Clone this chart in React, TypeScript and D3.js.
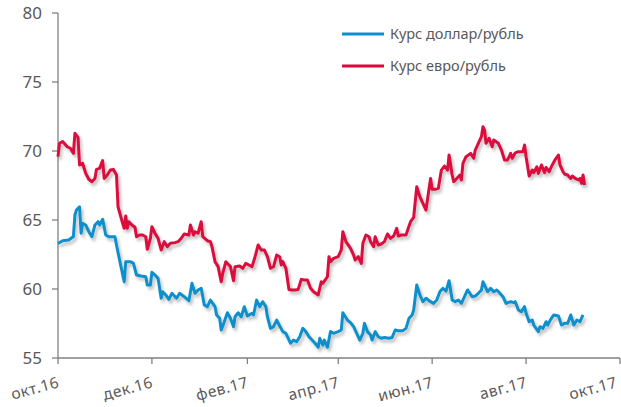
import React from 'react';
import * as d3 from 'd3';

// days since 1 Oct 2016
const usdDays = [
  0, 3, 7, 10, 11, 12, 14, 15, 16, 18,
  20, 22, 24, 26, 27, 29, 31, 33, 37, 38,
  40, 43, 44, 47, 49, 51, 54, 57, 58, 60,
  61, 63, 65, 67, 68, 70, 72, 74, 77, 79,
  82, 85, 87, 89, 91, 93, 95, 97, 99, 102,
  103, 105, 106, 108, 110, 112, 114, 115, 117, 119,
  121, 123, 126, 127, 129, 131, 133, 135, 136, 138,
  140, 142, 144, 146, 148, 151, 153, 155, 157, 159,
  161, 163, 165, 167, 169, 170, 172, 173, 175, 177,
  179, 182, 184, 185, 188, 190, 192, 194, 196, 198,
  199, 201, 203, 204, 206, 208, 210, 212, 215, 217,
  219, 221, 224, 226, 228, 230, 231, 233, 235, 237,
  239, 242, 244, 246, 248, 250, 252, 254, 256, 258,
  260, 262, 264, 266, 269, 271, 273, 275, 276, 278,
  279, 281, 283, 285, 287, 289, 291, 294, 296, 297,
  299, 301, 303, 304, 306, 308, 309, 312, 313, 315,
  317, 318, 320, 322, 325, 327, 329, 331, 333, 335,
  337, 339, 341
];
const usdRates = [
  63.3, 63.5, 63.55, 63.8, 65.36, 65.72, 65.96, 64.04, 64.76, 64.64,
  64.15, 63.79, 64.64, 64.88, 64.64, 65.05, 63.91, 63.79, 63.79, 63.19,
  62.10, 60.53, 61.98, 61.98, 61.86, 61.01, 60.94, 60.89, 60.29, 60.29,
  61.21, 61.01, 60.77, 59.33, 59.80, 59.57, 59.25, 59.69, 59.33, 59.69,
  59.44, 59.15, 60.41, 59.69, 59.93, 60.05, 58.84, 58.72, 59.20, 58.72,
  58.12, 57.88, 57.03, 57.63, 58.28, 57.88, 57.27, 57.99, 58.28, 57.99,
  58.72, 58.04, 58.24, 58.12, 59.20, 58.72, 59.08, 58.72, 57.99, 57.15,
  57.27, 57.75, 57.32, 56.91, 56.79, 56.07, 56.30, 56.18, 56.54, 57.15,
  56.91, 56.54, 56.30, 56.07, 55.78, 56.43, 55.94, 56.30, 55.78, 56.91,
  56.79, 56.91, 57.03, 58.28, 57.75, 57.56, 57.27, 56.79, 56.30, 56.79,
  57.51, 56.91, 56.67, 56.30, 56.91, 56.54, 56.43, 56.49, 56.43, 56.49,
  57.03, 56.98, 56.98, 57.15, 57.88, 58.12, 58.48, 60.29, 59.57, 59.08,
  59.33, 59.08, 58.96, 59.20, 59.80, 60.05, 59.85, 60.6, 59.20, 59.08,
  59.20, 58.96, 59.44, 59.93, 59.44, 59.49, 59.69, 59.93, 60.53, 60.05,
  59.80, 60.05, 59.80, 59.93, 59.69, 59.44, 58.96, 59.08, 59.01, 59.08,
  58.48, 58.36, 58.72, 58.24, 57.63, 57.75, 57.39, 56.91, 57.27, 57.15,
  57.63, 57.39, 57.80, 58.12, 58.04, 57.39, 57.51, 57.51, 58.12, 57.39,
  57.75, 57.63, 58.12
];

const eurDays = [
  0, 1, 3, 6, 8, 10, 11, 13, 14, 16,
  18, 20, 22, 24, 25, 27, 29, 30, 32, 34,
  36, 38, 39, 42, 43, 44, 45, 46, 48, 50,
  51, 53, 55, 57, 58, 60, 61, 63, 65, 67,
  69, 71, 73, 76, 78, 80, 82, 85, 86, 88,
  89, 91, 93, 94, 97, 99, 100, 102, 104, 106,
  107, 109, 111, 112, 114, 115, 118, 120, 122, 124,
  126, 128, 130, 132, 134, 136, 138, 140, 142, 144,
  145, 146, 148, 150, 152, 154, 156, 158, 160, 162,
  164, 166, 169, 171, 172, 175, 176, 177, 179, 182,
  184, 185, 187, 190, 192, 193, 195, 197, 198, 200,
  202, 203, 205, 206, 208, 210, 212, 214, 216, 218,
  220, 221, 223, 226, 228, 229, 231, 233, 235, 237,
  239, 241, 242, 243, 245, 247, 249, 251, 253, 254,
  256, 257, 259, 261, 262, 263, 265, 268, 270, 271,
  273, 275, 276, 277, 278, 280, 282, 283, 286, 288,
  290, 292, 294, 295, 297, 299, 302, 303, 304, 306,
  308, 309, 311, 312, 314, 316, 317, 319, 321, 323,
  325, 326, 328, 329, 331, 333, 334, 336, 338, 339,
  340, 341, 342
];
const eurRates = [
  69.59, 70.56, 70.68, 70.31, 70.20, 69.83, 71.28, 70.99, 68.99, 69.11,
  68.38, 67.95, 67.77, 68.01, 68.67, 68.74, 69.30, 68.01, 68.26, 68.62,
  68.67, 68.26, 65.96, 64.76, 64.40, 65.29, 64.40, 64.88, 64.64, 64.47,
  63.79, 63.91, 63.91, 63.79, 62.88, 63.67, 64.51, 64.04, 63.67, 62.83,
  63.43, 63.07, 63.31, 63.36, 63.43, 63.67, 63.99, 63.91, 64.64, 63.91,
  64.15, 64.04, 64.88, 63.79, 63.50, 63.43, 63.07, 61.98, 61.62, 60.53,
  61.14, 61.98, 61.74, 61.62, 60.60, 61.62, 61.67, 61.50, 61.86, 61.74,
  61.62, 62.34, 63.19, 62.83, 62.83, 62.34, 61.50, 61.62, 62.46, 62.34,
  61.74, 61.98, 61.50, 59.97, 59.93, 59.93, 59.97, 60.70, 60.65, 60.65,
  60.05, 59.80, 59.57, 60.53, 60.41, 60.89, 62.34, 61.98, 62.22, 62.34,
  62.83, 64.15, 63.43, 62.95, 62.46, 62.10, 62.34, 61.86, 63.31, 63.91,
  63.79, 63.43, 63.07, 63.79, 63.19, 63.26, 63.43, 63.99, 63.67, 63.84,
  64.40, 63.84, 63.91, 63.91, 64.57, 64.88, 65.19, 67.41, 66.69, 66.21,
  65.72, 67.29, 68.01, 67.22, 67.22, 67.29, 68.62, 68.91, 68.62, 69.71,
  68.26, 67.77, 68.01, 68.26, 67.90, 69.11, 69.59, 69.83, 69.47, 70.07,
  70.56, 71.04, 71.76, 71.52, 70.56, 70.92, 70.31, 70.80, 70.56, 70.07,
  69.35, 69.35, 69.83, 69.47, 69.87, 69.95, 69.95, 70.43, 69.59, 68.19,
  68.62, 68.43, 68.86, 68.38, 68.99, 68.43, 68.81, 68.50, 68.99, 69.40,
  69.71, 68.99, 68.50, 68.33, 68.26, 68.01, 68.19, 68.01, 67.90, 68.01,
  67.65, 68.26, 67.54
];

const yTicks = [55, 60, 65, 70, 75, 80];
const monthLabels = ['окт.16', 'дек.16', 'фев.17', 'апр.17', 'июн.17', 'авг.17', 'окт.17'];
const seriesNames = ['Курс доллар/рубль', 'Курс евро/рубль'];

const W = 621, H = 407;
const BLUE = '#0e8fcb';
const RED = '#da0b3c';
const TEXT = '#595959';
const AXIS = '#808080';
const FONT = "'Noto Sans', 'Open Sans', sans-serif";

const start = new Date(2016, 9, 1);
const end = new Date(2017, 9, 1);

export default function App() {
  const x = d3.scaleTime().domain([start, end]).range([58, 620]);
  const y = d3.scaleLinear().domain([55, 80]).range([358, 13]);

  const toPoints = (days: number[], rates: number[]) =>
    days.map((d, i) => ({ date: d3.timeDay.offset(start, d), v: rates[i] }));

  const line = d3.line<{ date: Date; v: number }>()
    .x(d => x(d.date))
    .y(d => y(d.v));

  const usd = toPoints(usdDays, usdRates);
  const eur = toPoints(eurDays, eurRates);
  // every second month starting with October
  const xTicks = d3.timeMonth.range(start, d3.timeDay.offset(end, 1), 2);
  const [y0, y1] = y.range();

  return (
    <svg width={W} height={H} style={{ position: 'absolute', left: 0, top: 0, background: '#fff' }}
         fontFamily={FONT}>
      <defs>
        <filter id="shadow" x="-5%" y="-5%" width="110%" height="120%">
          <feDropShadow dx="2" dy="3" stdDeviation="1.6" floodColor="#000" floodOpacity="0.25" />
        </filter>
      </defs>

      {/* y axis */}
      <line x1={58} x2={58} y1={y1} y2={y0} stroke={AXIS} strokeWidth={1.3} />
      {yTicks.map(t => (
        <g key={t}>
          <line x1={52} x2={58} y1={y(t)} y2={y(t)} stroke={AXIS} strokeWidth={1.3} />
          <text x={42} y={y(t)} dy="0.36em" textAnchor="end" fontSize={17} fill={TEXT}>{t}</text>
        </g>
      ))}

      {/* x axis */}
      <line x1={58} x2={620} y1={y0} y2={y0} stroke={AXIS} strokeWidth={1.3} />
      {xTicks.map((d, i) => (
        <g key={i}>
          <line x1={x(d)} x2={x(d)} y1={y0} y2={y0 + 6} stroke={AXIS} strokeWidth={1.3} />
          <text transform={`translate(${Math.min(x(d) + 2, 618)},${387}) rotate(-15)`} textAnchor="end"
                fontSize={15.5} fill={TEXT} letterSpacing="0.5">{monthLabels[i]}</text>
        </g>
      ))}

      {/* series */}
      <path d={line(usd) || ''} fill="none" stroke={BLUE} strokeWidth={3}
            strokeLinejoin="round" filter="url(#shadow)" />
      <path d={line(eur) || ''} fill="none" stroke={RED} strokeWidth={3}
            strokeLinejoin="round" filter="url(#shadow)" />

      {/* legend */}
      {[BLUE, RED].map((c, i) => (
        <g key={i} transform={`translate(342,${34 + i * 32})`}>
          <line x1={0} x2={42} y1={0} y2={0} stroke={c} strokeWidth={3} />
          <text x={48} y={0} dy="0.35em" fontSize={14.5} fill={TEXT}>{seriesNames[i]}</text>
        </g>
      ))}
    </svg>
  );
}
